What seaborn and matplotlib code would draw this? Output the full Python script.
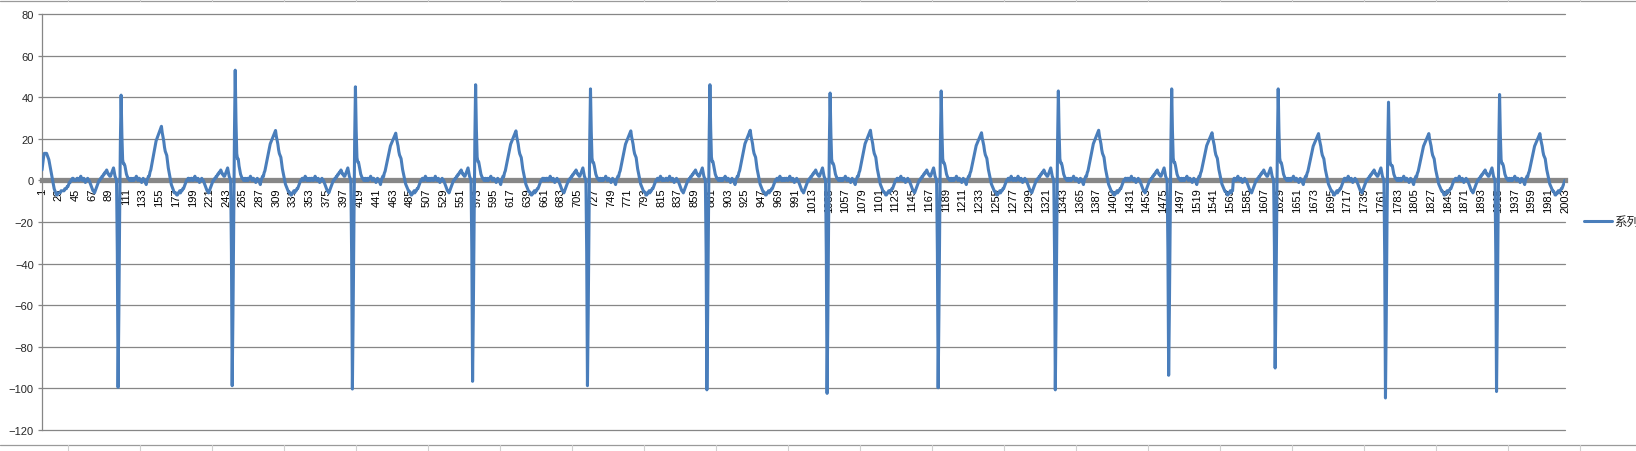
import matplotlib
matplotlib.use("Agg")
import matplotlib.pyplot as plt
from matplotlib.lines import Line2D
import seaborn as sns
import pandas as pd

# samples 1..45, tail of the beat before the first one
lead_in = [5, 8, 11, 13, 13, 13, 13, 12, 11, 10, 8, 6, 4, 2, 0, -2, -4, -5, -6, -7,
           -7, -6, -6, -6, -6, -5, -5, -5, -5, -5, -4, -4, -4, -3, -3, -2, -1, -1, 0, 0,
           1, 1, 0, 0, 0]

beat_shape = (
    [0, 1, 1, 0, 0, 1, 2, 1, 0, 0, 1, 0, -1, 0, 0, 1, 0, 0, -1, -2]          # -55..-36
    + [-3, -4, -5, -5, -6, -5, -4, -3, -2, -1, 0, 0, 1, 1, 2]                # -35..-21
    + [2, 3, 3, 4, 4, 5, 4, 3, 3, 2, 2, 3, 4, 5]                             # -20..-7
    + [6, 4, 2, 1, 0, -35]                                                   # -6..-1
    + [-100, -65, -20, 18, 41]                                               # 0..4
    + [22, 10, 8, 8, 7, 5, 3, 2, 1, 1, 0, 0, 1, 0, 0, 1]                     # 5..20
    + [0, 1, 1, 2, 1, 0, 1, 1, 0, 0, -1, 0, 1, 0, 0, -1, -2, 0, 1, 2]        # 21..40
    + [2, 4, 5, 7, 9, 11, 13, 15, 17, 19, 20, 21, 22, 23, 24, 25, 26, 23, 21, 19,
       16, 14, 13, 12, 9, 6, 4, 2, 0, -2, -3, -4, -5, -6, -6]                # 41..75
    + [-6, -7, -7, -6, -6, -5, -6, -5, -5, -4, -4, -3, -2, -1, 0, 0, 1, 1, 0, 1,
       2, 1, 0, 1, 0, 0, 1]                                                  # 76..102
)

# per beat: sample of the S point, S depth, R height, T height
s_index = [101, 251, 409, 567, 718, 875, 1033, 1179, 1333, 1482, 1622, 1767, 1913]
s_depth = [-99.5, -98.7, -100.3, -96.6, -98.7, -100.7, -102.4, -99.7, -100.7, -93.7, -90.2, -104.6, -101.5]
r_height = [41, 53, 45, 46, 44, 46, 42, 43, 43, 44, 44, 37.6, 41.3]
t_height = [26, 24, 22.7, 23.8, 23.8, 24.1, 24.1, 22.9, 24.1, 22.9, 22.5, 22.5, 22.5]

n_points = 2003
tick_labels = list(range(1, n_points + 1, 22))

# assemble the series beat by beat
values = list(lead_in)
for k, s in enumerate(s_index):
    end = s_index[k + 1] - 55 if k + 1 < len(s_index) else n_points + 1
    for i in range(s - 55, end):
        off = i - s
        v = beat_shape[off + 55]
        if off == 0:
            v = s_depth[k]
        elif -1 <= off <= 2 and v < 0:
            v = v * s_depth[k] / -100
        elif 1 <= off <= 8 and v > 0:
            v = v * r_height[k] / 41
        elif 41 <= off <= 75:
            v = v * t_height[k] / 26
        values.append(v)

df = pd.DataFrame({"idx": range(1, len(values) + 1), "val": values})

sns.set_theme(style="white")
plt.rcParams["font.family"] = ["Liberation Sans", "Noto Sans CJK SC", "DejaVu Sans"]

W, H = 1636, 452
fig = plt.figure(figsize=(W / 100, H / 100), dpi=100)
ax = fig.add_axes([42 / W, (H - 431) / H, (1565 - 42) / W, (431 - 15) / H])

sns.lineplot(x="idx", y="val", data=df, ax=ax, color="#4A7EBB", linewidth=2.2,
             label="系列1", zorder=3)

ax.set_xlim(1, n_points)
ax.set_ylim(-120, 80)
ax.set_yticks(range(-120, 81, 20))
ax.yaxis.grid(True, color="#868686", linewidth=0.9)
ax.xaxis.grid(False)
for gl in ax.get_ygridlines():
    gl.set_clip_on(False)
ax.set_xlabel("")
ax.set_ylabel("")

# category axis crosses at zero, drawn as the thick grey line
ax.spines["bottom"].set_position(("data", 0))
ax.spines["bottom"].set_color("#878787")
ax.spines["bottom"].set_linewidth(3.8)
ax.spines["left"].set_color("#868686")
ax.spines["left"].set_linewidth(0.9)
ax.spines["top"].set_visible(False)
ax.spines["right"].set_visible(False)

ax.set_xticks(tick_labels)
ax.set_xticklabels([str(t) for t in tick_labels], rotation=90, fontsize=8)
ax.tick_params(axis="x", length=0, pad=5, colors="black")
ax.tick_params(axis="y", direction="out", length=3, width=0.9, color="#868686",
               pad=3, labelsize=8, left=True)
for lab in ax.get_xticklabels():
    lab.set_verticalalignment("top")

# legend sits at the right edge and runs off it, as in the source
ax.legend(loc="center left", bbox_to_anchor=(1584 / W, 1 - 223 / H),
          bbox_transform=fig.transFigure, frameon=False, fontsize=9,
          handlelength=2.2, handletextpad=0.2, borderpad=0, borderaxespad=0)

# sheet cell borders around the chart
for y in (1 - 1.5 / H, 6 / H):
    fig.add_artist(Line2D([0, 1], [y, y], color="#9a9a9a", linewidth=0.9))
for x in range(68, W, 72):
    fig.add_artist(Line2D([x / W, x / W], [1 - 1.5 / H, 1], color="#d0d0d0", linewidth=0.8))
    fig.add_artist(Line2D([x / W, x / W], [0, 6 / H], color="#d0d0d0", linewidth=0.8))

fig.savefig("out.png", dpi=100)
